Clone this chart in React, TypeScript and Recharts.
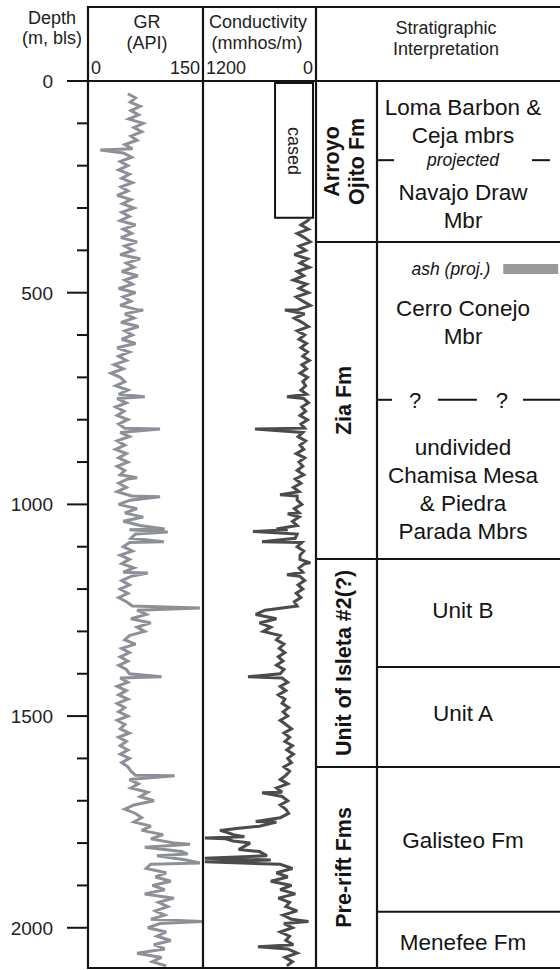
import React from 'react';
import { LineChart, ComposedChart, Line, XAxis, YAxis, ReferenceArea, ReferenceLine } from 'recharts';

const FONT = '"Liberation Sans", Arial, Helvetica, sans-serif';
const INK = '#141414';

// ---------- depth axis ----------
const DEPTH_MAX = 2095;
const depthTicks = [0, 100, 200, 300, 400, 500, 600, 700, 800, 900, 1000, 1100, 1200, 1300, 1400, 1500, 1600, 1700, 1800, 1900, 2000];

// ---------- GR log (API), sampled every 10 m from 30 m ----------
const GR_START = 30;
const SAMPLE_STEP = 10;
const grValues = [
  52, 62, 55, 68, 56, 66, 53, 72, 60, 70,
  56, 64, 48, 58, 46, 57, 42, 52, 40, 54,
  44, 58, 43, 52, 38, 56, 45, 60, 44, 54,
  42, 62, 46, 57, 43, 64, 48, 59, 42, 68,
  50, 60, 44, 65, 48, 58, 40, 62, 46, 56,
  42, 64, 48, 60, 43, 66, 48, 58, 44, 62,
  38, 54, 40, 50, 34, 46, 30, 42, 48, 36,
  52, 40, 38, 50, 36, 47, 38, 52, 40, 48,
  42, 54, 38, 48, 36, 50, 40, 52, 38, 48,
  42, 52, 40, 50, 38, 57, 55, 40, 64, 48,
  72, 46, 68, 54, 62, 56, 54, 46, 58, 42,
  54, 44, 60, 46, 56, 44, 54, 42, 52, 40,
  50, 58, 64, 76, 56, 82, 64, 74, 54, 48,
  62, 44, 54, 42, 52, 40, 50, 54, 42, 52,
  38, 50, 40, 52, 38, 48, 40, 52, 38, 48,
  42, 54, 40, 50, 42, 52, 42, 54, 44, 52,
  56, 62, 54, 66, 56, 78, 68, 86, 60, 48,
  62, 70, 60, 82, 70, 98, 82, 112, 74, 122,
  90, 128, 82, 76, 102, 88, 108, 84, 100, 74,
  112, 92, 104, 88, 100, 82, 94, 78, 102, 90,
  108, 86, 100, 64, 96, 84, 102,
];
// thin spikes
const grSpikeDepth = [163, 541, 746, 822, 937, 982, 1058, 1065, 1088, 1162, 1245, 1407, 1641, 1803, 1826, 1847, 1985];
const grSpikeValue = [16, 72, 74, 94, 64, 94, 100, 104, 99, 78, 146, 96, 113, 133, 130, 146, 149];

// ---------- Conductivity log (mmhos/m), sampled every 10 m from 330 m ----------
const COND_START = 330;
const condValues = [
  90, 160, 80, 200, 120, 60, 180, 110, 230, 90,
  170, 70, 200, 130, 240, 100, 180, 80, 210, 140,
  60, 190, 120, 230, 150, 80, 200, 120, 180, 100,
  160, 90, 140, 70, 150, 100, 170, 90, 140, 110,
  160, 100, 130, 80, 150, 110, 170, 90, 160, 120,
  140, 190, 110, 170, 130, 210, 120, 180, 140, 200,
  130, 220, 160, 240, 180, 200, 200, 150, 230, 180,
  180, 250, 200, 300, 200, 220, 150, 200, 130, 170,
  170, 120, 180, 140, 170, 120, 190, 140, 210, 160,
  230, 200, 540, 640, 420, 600, 480, 560, 380, 420,
  340, 390, 330, 400, 350, 420, 340, 380, 360, 300,
  380, 320, 400, 330, 360, 290, 350, 300, 380, 320,
  260, 340, 280, 330, 250, 310, 240, 300, 260, 340,
  280, 320, 380, 300, 420, 360, 360, 300, 380, 320,
  290, 380, 420, 600, 1020, 880, 960, 700, 780, 600,
  520, 480, 380, 250, 420, 300, 480, 260, 380, 220,
  400, 280, 320, 200, 350, 260, 340, 250, 380, 280,
  320, 240, 300, 200, 330, 250, 310,
];
const condSpikeDepth = [323, 541, 746, 822, 977, 1022, 1058, 1064, 1088, 1138, 1166, 1407, 1681, 1749, 1765, 1775, 1785, 1788, 1795, 1815, 1836, 1844, 1985, 2045];
const condSpikeValue = [60, 330, 308, 648, 382, 300, 420, 670, 573, 60, 308, 722, 573, 640, 820, 940, 760, 1180, 880, 820, 1180, 1180, 80, 616];

// ---------- stratigraphy ----------
const formationNames = [['Arroyo', 'Ojito Fm'], ['Zia Fm'], ['Unit of Isleta #2(?)'], ['Pre-rift Fms']];
const formationTop = [0, 380, 1129, 1620];
const formationBase = [380, 1129, 1620, 2095];
const unitBoundaries = [380, 1129, 1384, 1620, 1962];
const interpLabels = [
  ['Loma Barbon &', 'Ceja mbrs'],
  ['Navajo Draw', 'Mbr'],
  ['Cerro Conejo', 'Mbr'],
  ['undivided', 'Chamisa Mesa', '& Piedra', 'Parada Mbrs'],
  ['Unit B'],
  ['Unit A'],
  ['Galisteo Fm'],
  ['Menefee Fm'],
];
const interpDepth = [94, 295, 569, 963, 1249, 1492, 1792, 2033];
const projectedDepth = 187;
const uncertainDepth = 753;
const ashTop = 432;
const ashBase = 456;
const casedTop = 5;
const casedBase = 323;

// ---------- rows ----------
const grRows = [
  ...grValues.map((v, i) => ({ depth: GR_START + i * SAMPLE_STEP, gr: v })),
  ...grSpikeDepth.map((d, i) => ({ depth: d, gr: grSpikeValue[i] })),
].sort((a, b) => a.depth - b.depth);

const condRows = [
  ...condValues.map((v, i) => ({ depth: COND_START + i * SAMPLE_STEP, cond: v })),
  ...condSpikeDepth.map((d, i) => ({ depth: d, cond: condSpikeValue[i] })),
].sort((a, b) => a.depth - b.depth);

const fmRows = [...formationTop, DEPTH_MAX].map((d) => ({ depth: d, pos: 0 }));

// ---------- geometry ----------
const CHART_TOP = 50;
const CHART_H = 918;
const PLOT_TOP_MARGIN = 31;

// ---------- custom ticks / labels ----------
const DepthTick = (props: any) => {
  const { x, y, payload } = props;
  const major = payload.value % 500 === 0;
  return (
    <g>
      <line x1={x - (major ? 21 : 11)} y1={y} x2={x} y2={y} stroke={INK} strokeWidth={2} />
      {major && (
        <text x={x - 35} y={y + 7} textAnchor="end" fontSize={19} fontFamily={FONT} fill="#222">
          {payload.value}
        </text>
      )}
    </g>
  );
};

const makeScaleTick = (leftValue: number) => (props: any) => {
  const { x, y, payload } = props;
  const isLeft = payload.value === leftValue;
  return (
    <text
      x={isLeft ? x + 3 : x - 3}
      y={y - 7}
      textAnchor={isLeft ? 'start' : 'end'}
      fontSize={18}
      fontFamily={FONT}
      fill="#222"
    >
      {payload.value}
    </text>
  );
};
const GrTick = makeScaleTick(0);
const CondTick = makeScaleTick(1200);

const casedLabel = (props: any) => {
  const vb = props.viewBox || {};
  const cx = vb.x + vb.width / 2;
  const cy = vb.y + 68;
  return (
    <text transform={`translate(${cx},${cy}) rotate(90)`} textAnchor="middle" y={6} fontSize={18} fontFamily={FONT} fill="#222">
      cased
    </text>
  );
};

const fmLabel = (lines: string[]) => (props: any) => {
  const vb = props.viewBox || {};
  const cx = vb.x + vb.width / 2 - 3;
  const cy = vb.y + vb.height / 2;
  const lh = 25;
  const first = 7.5 - ((lines.length - 1) * lh) / 2;
  return (
    <text transform={`translate(${cx},${cy}) rotate(-90)`} textAnchor="middle" fontSize={21.5} fontWeight="bold" fontFamily={FONT} fill={INK}>
      {lines.map((l, i) => (
        <tspan key={i} x={0} y={first + i * lh}>
          {l}
        </tspan>
      ))}
    </text>
  );
};

const interpLabel = (lines: string[]) => (props: any) => {
  const vb = props.viewBox || {};
  const cx = vb.x + vb.width * 0.47;
  const cy = vb.y + (vb.height || 0) / 2;
  const lh = 28;
  const y0 = cy - ((lines.length - 1) * lh) / 2 + 8;
  return (
    <text textAnchor="middle" fontSize={22.5} fontFamily={FONT} fill={INK}>
      {lines.map((l, i) => (
        <tspan key={i} x={cx} y={y0 + i * lh}>
          {l}
        </tspan>
      ))}
    </text>
  );
};

const projectedLabel = (props: any) => {
  const vb = props.viewBox || {};
  return (
    <text x={vb.x + vb.width * 0.47} y={vb.y + 6} textAnchor="middle" fontSize={17.5} fontStyle="italic" fontFamily={FONT} fill={INK}>
      projected
    </text>
  );
};

const uncertainLabel = (props: any) => {
  const vb = props.viewBox || {};
  return (
    <g>
      <text x={vb.x + vb.width * 0.208} y={vb.y + 8} textAnchor="middle" fontSize={22} fontFamily={FONT} fill={INK}>?</text>
      <text x={vb.x + vb.width * 0.683} y={vb.y + 8} textAnchor="middle" fontSize={22} fontFamily={FONT} fill={INK}>?</text>
    </g>
  );
};

const ashLabel = (props: any) => {
  const vb = props.viewBox || {};
  return (
    <text x={vb.x - 13} y={vb.y + vb.height / 2 + 6} textAnchor="end" fontSize={17.5} fontStyle="italic" fontFamily={FONT} fill={INK}>
      ash (proj.)
    </text>
  );
};

const abs = (left: number): React.CSSProperties => ({ position: 'absolute', left, top: CHART_TOP });

export default function App() {
  const headerText = { fontFamily: FONT, fontSize: 18, fill: '#222', textAnchor: 'middle' as const };
  return (
    <div style={{ position: 'absolute', left: 0, top: 0, width: 560, height: 970, background: '#fff', overflow: 'hidden', fontFamily: FONT }}>
      {/* GR track with depth axis */}
      <div style={abs(0)}>
        <LineChart layout="vertical" width={203} height={CHART_H} data={grRows} margin={{ top: PLOT_TOP_MARGIN - 20, right: 0, bottom: 0, left: 0 }}>
          <XAxis type="number" dataKey="gr" orientation="top" domain={[0, 150]} ticks={[0, 150]} height={20} tickSize={0} tickMargin={0} axisLine={false} tickLine={false} tick={GrTick} interval={0} allowDataOverflow />
          <YAxis type="number" dataKey="depth" domain={[0, DEPTH_MAX]} ticks={depthTicks} width={88} tickSize={0} tickMargin={0} axisLine={false} tickLine={false} tick={DepthTick} interval={0} allowDataOverflow />
          <Line type="linear" dataKey="gr" stroke="#8d9097" strokeWidth={3} strokeLinejoin="miter" strokeMiterlimit={3} dot={false} isAnimationActive={false} />
        </LineChart>
      </div>

      {/* Conductivity track */}
      <div style={abs(203)}>
        <LineChart layout="vertical" width={113} height={CHART_H} data={condRows} margin={{ top: PLOT_TOP_MARGIN - 20, right: 0, bottom: 0, left: 0 }}>
          <XAxis type="number" dataKey="cond" orientation="top" domain={[0, 1200]} reversed ticks={[1200, 0]} height={20} tickSize={0} tickMargin={0} axisLine={false} tickLine={false} tick={CondTick} interval={0} allowDataOverflow />
          <YAxis type="number" dataKey="depth" domain={[0, DEPTH_MAX]} hide allowDataOverflow />
          <ReferenceArea x1={32} x2={435} y1={casedTop} y2={casedBase} fill="#fff" fillOpacity={1} stroke={INK} strokeWidth={2} label={casedLabel} ifOverflow="visible" />
          <Line type="linear" dataKey="cond" stroke="#4b4b4e" strokeWidth={3} strokeLinejoin="miter" strokeMiterlimit={3} dot={false} isAnimationActive={false} />
        </LineChart>
      </div>

      {/* Formation column */}
      <div style={abs(316)}>
        <ComposedChart layout="vertical" width={61} height={CHART_H} data={fmRows} margin={{ top: PLOT_TOP_MARGIN, right: 0, bottom: 0, left: 0 }}>
          <XAxis type="number" dataKey="pos" domain={[0, 1]} hide allowDataOverflow />
          <YAxis type="number" dataKey="depth" domain={[0, DEPTH_MAX]} hide allowDataOverflow />
          <Line dataKey="pos" stroke="none" dot={false} isAnimationActive={false} />
          {formationTop.map((t, i) => (
            <ReferenceArea key={`fa${i}`} y1={t} y2={formationBase[i]} fill="#fff" fillOpacity={0} stroke="none" label={fmLabel(formationNames[i])} />
          ))}
          {formationBase.slice(0, -1).map((d) => (
            <ReferenceLine key={`fl${d}`} y={d} stroke={INK} strokeWidth={2} />
          ))}
        </ComposedChart>
      </div>

      {/* Interpretation column */}
      <div style={abs(377)}>
        <ComposedChart layout="vertical" width={183} height={CHART_H} data={fmRows} margin={{ top: PLOT_TOP_MARGIN, right: 0, bottom: 0, left: 0 }}>
          <XAxis type="number" dataKey="pos" domain={[0, 1]} hide allowDataOverflow />
          <YAxis type="number" dataKey="depth" domain={[0, DEPTH_MAX]} hide allowDataOverflow />
          <Line dataKey="pos" stroke="none" dot={false} isAnimationActive={false} />
          {unitBoundaries.map((d) => (
            <ReferenceLine key={`ul${d}`} y={d} stroke={INK} strokeWidth={2} />
          ))}
          {interpLabels.map((lines, i) => (
            <ReferenceLine key={`il${i}`} y={interpDepth[i]} stroke="none" label={interpLabel(lines)} />
          ))}
          <ReferenceLine y={projectedDepth} stroke="none" label={projectedLabel} />
          <ReferenceLine segment={[{ x: 0.005, y: projectedDepth }, { x: 0.093, y: projectedDepth }]} stroke={INK} strokeWidth={2} />
          <ReferenceLine segment={[{ x: 0.847, y: projectedDepth }, { x: 0.945, y: projectedDepth }]} stroke={INK} strokeWidth={2} />
          <ReferenceLine y={uncertainDepth} stroke="none" label={uncertainLabel} />
          <ReferenceLine segment={[{ x: 0.005, y: uncertainDepth }, { x: 0.082, y: uncertainDepth }]} stroke={INK} strokeWidth={2} />
          <ReferenceLine segment={[{ x: 0.333, y: uncertainDepth }, { x: 0.546, y: uncertainDepth }]} stroke={INK} strokeWidth={2} />
          <ReferenceLine segment={[{ x: 0.798, y: uncertainDepth }, { x: 1, y: uncertainDepth }]} stroke={INK} strokeWidth={2} />
          <ReferenceArea x1={0.69} x2={0.99} y1={ashTop} y2={ashBase} fill="#9a9a9a" fillOpacity={1} stroke="none" label={ashLabel} />
        </ComposedChart>
      </div>

      {/* frame and headers */}
      <svg width={560} height={970} style={{ position: 'absolute', left: 0, top: 0, pointerEvents: 'none' }}>
        <g stroke={INK} strokeWidth={2.2}>
          <line x1={87} y1={7} x2={560} y2={7} />
          <line x1={87} y1={81} x2={560} y2={81} />
          <line x1={87} y1={968} x2={560} y2={968} />
          <line x1={88} y1={6} x2={88} y2={969} />
          <line x1={203} y1={6} x2={203} y2={969} />
          <line x1={316} y1={6} x2={316} y2={969} />
          <line x1={377} y1={81} x2={377} y2={969} />
        </g>
        <text x={52} y={24} {...headerText}>Depth</text>
        <text x={52} y={44} {...headerText}>(m, bls)</text>
        <text x={147} y={28} {...headerText}>GR</text>
        <text x={147} y={49} {...headerText}>(API)</text>
        <text x={258} y={28} {...headerText}>Conductivity</text>
        <text x={257} y={49} {...headerText}>(mmhos/m)</text>
        <text x={446} y={34} {...headerText}>Stratigraphic</text>
        <text x={446} y={55} {...headerText}>Interpretation</text>
      </svg>
    </div>
  );
}
